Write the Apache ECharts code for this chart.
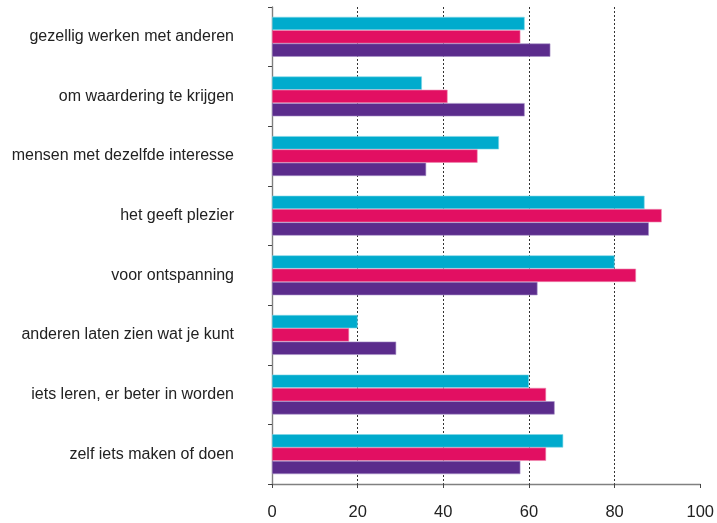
<!DOCTYPE html>
<html>
<head>
<meta charset="utf-8">
<script src="https://cdn.jsdelivr.net/npm/echarts@6/dist/echarts.min.js"></script>
<style>
html,body{margin:0;padding:0;background:#fff;}
#chart{width:717px;height:523px;}
</style>
</head>
<body>
<div id="chart"></div>
<script>
const categories = [
  'gezellig werken met anderen',
  'om waardering te krijgen',
  'mensen met dezelfde interesse',
  'het geeft plezier',
  'voor ontspanning',
  'anderen laten zien wat je kunt',
  'iets leren, er beter in worden',
  'zelf iets maken of doen'
];
const seriesCyan   = [59, 35, 53, 87, 80, 20, 60, 68];
const seriesPink   = [58, 41, 48, 91, 85, 18, 64, 64];
const seriesPurple = [65, 59, 36, 88, 62, 29, 66, 58];
const xTicks = [0, 20, 40, 60, 80, 100];

const colors = ['#00abcd', '#e20f62', '#5b2c8c'];
const borders = ['#7fd6e8', '#f08ab0', '#a892c8'];

const chart = echarts.init(document.getElementById('chart'), null, {renderer: 'canvas'});
const mk = (name, data, i) => ({
  name, type: 'bar', data,
  barWidth: 13.3, barGap: '0%',
  itemStyle: {color: colors[i], borderColor: borders[i], borderWidth: 0.6},
  emphasis: {disabled: true}
});
chart.setOption({
  animation: false,
  grid: {left: 272, right: 11, top: 7, bottom: 39, containLabel: false},
  xAxis: {
    type: 'value', min: xTicks[0], max: xTicks[xTicks.length - 1], interval: 20,
    axisLine: {show: true, lineStyle: {color: '#808080', width: 1.4}},
    axisTick: {show: true, length: 4, lineStyle: {color: '#444', width: 1}},
    axisLabel: {color: '#222', fontSize: 16.5, fontFamily: '"Liberation Sans Narrow", "Liberation Sans", Arial, sans-serif', margin: 20},
    splitLine: {show: true, lineStyle: {type: [2, 2], width: 1,
      color: ['rgba(0,0,0,0)', '#333', '#333', '#333', '#333', 'rgba(0,0,0,0)']}}
  },
  yAxis: {
    type: 'category', data: categories, inverse: true,
    axisLine: {show: true, lineStyle: {color: '#808080', width: 1.4}},
    axisTick: {show: true, length: 4, lineStyle: {color: '#444', width: 1}},
    axisLabel: {color: '#222', fontSize: 16, fontFamily: '"Liberation Sans", Arial, sans-serif', margin: 38},
    splitLine: {show: false}
  },
  series: [
    mk('a', seriesCyan, 0),
    mk('b', seriesPink, 1),
    mk('c', seriesPurple, 2)
  ]
});
</script>
</body>
</html>
